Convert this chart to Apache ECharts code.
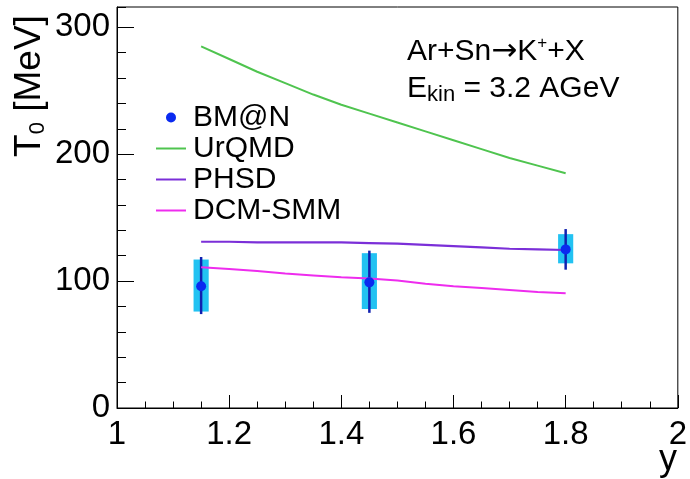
<!DOCTYPE html>
<html>
<head>
<meta charset="utf-8">
<script src="https://cdn.jsdelivr.net/npm/echarts@6/dist/echarts.min.js"></script>
<style>
html,body{margin:0;padding:0;background:#fff;}
#chart{width:690px;height:479px;}
</style>
</head>
<body>
<div id="chart"></div>
<script>
// ---- data ----
const xTickValues = [1, 1.2, 1.4, 1.6, 1.8, 2];
const xTickLabels = ['1', '1.2', '1.4', '1.6', '1.8', '2'];
const yTickValues = [0, 100, 200, 300];
const yTickLabels = ['0', '100', '200', '300'];

const bmnRapidity = [1.15, 1.45, 1.8];
const bmnT0 = [96, 99, 125];
const bmnStatLow = [74, 75, 109];
const bmnStatHigh = [119, 124, 141];
const bmnSysLow = [76, 78, 114];
const bmnSysHigh = [117, 122, 137];

const modelRapidity = [1.15, 1.2, 1.25, 1.3, 1.35, 1.4, 1.45, 1.5, 1.55, 1.6, 1.65, 1.7, 1.75, 1.8];
const urqmdT0 = [285, 275, 265, 256, 247, 239, 232, 225, 218, 211, 204, 197, 191, 185];
const phsdT0 = [131, 131, 130.5, 130.5, 130.5, 130.5, 130, 129.5, 128.5, 127.5, 126.5, 125.5, 125, 124.5];
const dcmT0 = [111, 109.5, 108, 106, 104.5, 103, 102, 100.5, 98, 96, 94.5, 93, 91.5, 90.5];

const legendNames = ['BM@N', 'UrQMD', 'PHSD', 'DCM-SMM'];

// ---- style ----
const FONT = '"Liberation Sans", Arial, Helvetica, sans-serif';
const BOX_WIDTH = 0.027;
const C_GREEN = '#4fc44f', C_PURPLE = '#7b2fd8', C_MAGENTA = '#ee2cee';
const C_DOT = '#0a2af0', C_ERR = '#1020b0', C_BOX = '#22c2f2';
const LINE_ICON = 'path://M0,0H30V2H0Z';

const zip = (xs, ys) => xs.map((x, i) => [x, ys[i]]);
const errData = bmnRapidity.map((x, i) => [x, bmnT0[i], bmnStatLow[i], bmnStatHigh[i], bmnSysLow[i], bmnSysHigh[i]]);

const chart = echarts.init(document.getElementById('chart'), null, {renderer: 'canvas'});
chart.setOption({
  animation: false,
  backgroundColor: '#fff',
  textStyle: {fontFamily: FONT},
  grid: {left: 117, right: 10, top: 7, bottom: 71, show: true, borderColor: '#000', borderWidth: 1, backgroundColor: 'transparent'},
  xAxis: [{
    type: 'value', min: 1, max: 2, interval: 0.2,
    axisLine: {lineStyle: {color: '#000', width: 1}},
    axisTick: {inside: true, length: 13, lineStyle: {color: '#000'}},
    minorTick: {show: true, splitNumber: 4, length: 6.5, lineStyle: {color: '#000'}},
    splitLine: {show: false},
    axisLabel: {
      fontSize: 33, color: '#000', fontFamily: FONT, margin: 10,
      formatter: v => { const i = xTickValues.findIndex(t => Math.abs(t - v) < 1e-6); return i >= 0 ? xTickLabels[i] : ''; }
    }
  }],
  yAxis: [{
    type: 'value', min: 0, max: 316, interval: 100, position: 'left',
    axisLine: {show: true, lineStyle: {color: '#000', width: 1}},
    axisTick: {show: true, inside: true, length: 17, lineStyle: {color: '#000'}},
    splitLine: {show: false},
    axisLabel: {
      fontSize: 33, color: '#000', fontFamily: FONT, margin: 7, showMaxLabel: false,
      formatter: v => { const i = yTickValues.indexOf(v); return i >= 0 ? yTickLabels[i] : ''; }
    }
  }, {
    type: 'value', min: 0, max: 316, interval: 20, position: 'left',
    axisLine: {show: false},
    axisTick: {show: true, inside: true, length: 9, lineStyle: {color: '#000'}},
    splitLine: {show: false},
    axisLabel: {show: false}
  }],
  legend: {
    orient: 'vertical', left: 151, top: 97, itemWidth: 30, itemHeight: 10, itemGap: 0,
    textStyle: {fontSize: 30, lineHeight: 31, color: '#000', fontFamily: FONT, padding: [0, 0, 0, 2]},
    data: [
      {name: legendNames[0], icon: 'circle', itemStyle: {color: C_DOT, opacity: 1}},
      {name: legendNames[1], icon: LINE_ICON},
      {name: legendNames[2], icon: LINE_ICON},
      {name: legendNames[3], icon: LINE_ICON}
    ]
  },
  series: [
    {
      name: 'BM@N errors', type: 'custom', z: 2,
      data: errData,
      renderItem: (params, api) => {
        const x = api.value(0);
        const c = api.coord([x, api.value(1)]);
        const sLo = api.coord([x, api.value(2)]), sHi = api.coord([x, api.value(3)]);
        const yLo = api.coord([x, api.value(4)]), yHi = api.coord([x, api.value(5)]);
        const w = api.size([BOX_WIDTH, 0])[0];
        return {type: 'group', children: [
          {type: 'rect', shape: {x: c[0] - w / 2, y: yHi[1], width: w, height: yLo[1] - yHi[1]}, style: {fill: C_BOX}},
          {type: 'line', shape: {x1: c[0], y1: sHi[1], x2: c[0], y2: sLo[1]}, style: {stroke: C_ERR, lineWidth: 2.5}}
        ]};
      }
    },
    {name: 'UrQMD', type: 'line', data: zip(modelRapidity, urqmdT0), symbol: 'none', lineStyle: {color: C_GREEN, width: 2}, itemStyle: {color: C_GREEN}, z: 3},
    {name: 'PHSD', type: 'line', data: zip(modelRapidity, phsdT0), symbol: 'none', lineStyle: {color: C_PURPLE, width: 2.2}, itemStyle: {color: C_PURPLE}, z: 3},
    {name: 'DCM-SMM', type: 'line', data: zip(modelRapidity, dcmT0), symbol: 'none', lineStyle: {color: C_MAGENTA, width: 2}, itemStyle: {color: C_MAGENTA}, z: 3},
    {name: 'BM@N', type: 'scatter', data: zip(bmnRapidity, bmnT0), symbol: 'circle', symbolSize: 10, itemStyle: {color: C_DOT, opacity: 1}, z: 4}
  ],
  graphic: [
    {
      type: 'text', x: 30, y: 86, rotation: Math.PI / 2,
      style: {
        text: '{a|T}{s|0}{a| [MeV]}', align: 'center', verticalAlign: 'middle', fill: '#000',
        rich: {a: {fontSize: 37, lineHeight: 37, fontFamily: FONT, fill: '#000'}, s: {fontSize: 22, lineHeight: 22, verticalAlign: 'bottom', fontFamily: FONT, fill: '#000'}}
      }
    },
    {
      type: 'text', x: 668, y: 460,
      style: {text: 'y', fontSize: 36, fontFamily: FONT, fill: '#000', align: 'center', verticalAlign: 'middle'}
    },
    {
      type: 'text', x: 407, y: 52,
      style: {
        text: '{a|Ar+Sn}{r|→}{a|K}{p|+}{a|+X}', align: 'left', verticalAlign: 'middle', fill: '#000',
        rich: {
          a: {fontSize: 30, lineHeight: 34, fontFamily: FONT, fill: '#000'},
          r: {fontSize: 31, lineHeight: 34, fontFamily: '"DejaVu Sans", sans-serif', fill: '#000'},
          p: {fontSize: 17, lineHeight: 17, verticalAlign: 'top', fontFamily: FONT, fill: '#000'}
        }
      }
    },
    {
      type: 'text', x: 407, y: 89,
      style: {
        text: '{a|E}{s|kin}{a| = 3.2 AGeV}', align: 'left', verticalAlign: 'middle', fill: '#000',
        rich: {a: {fontSize: 30, lineHeight: 34, fontFamily: FONT, fill: '#000'}, s: {fontSize: 22, lineHeight: 22, verticalAlign: 'bottom', fontFamily: FONT, fill: '#000'}}
      }
    }
  ]
});
</script>
</body>
</html>
